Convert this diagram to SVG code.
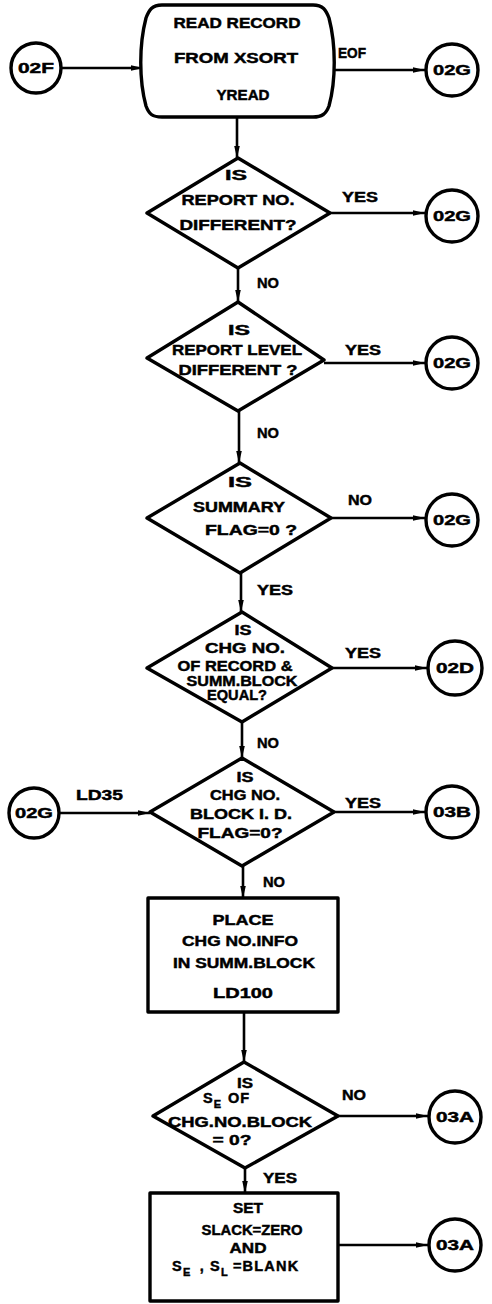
<svg xmlns="http://www.w3.org/2000/svg" width="492" height="1304" viewBox="0 0 492 1304">
  <style>
    .shape { fill: #fff; stroke: #000; stroke-width: 3.4; stroke-linejoin: round; }
    .conn { fill: none; stroke: #000; stroke-width: 2.6; }
    .t, .lbl { font-family: "Liberation Sans", Arial, sans-serif; font-weight: bold; font-size: 14.5px; fill: #000; stroke: #000; stroke-width: 0.45px; }
    .t { text-anchor: middle; }
    .sub { font-size: 11px; }
  </style>
  <defs>
    <marker id="arr" viewBox="0 0 12 8" refX="12" refY="4" markerWidth="12" markerHeight="8" markerUnits="userSpaceOnUse" orient="auto">
      <path d="M0,1.2 L12,4 L0,6.8 Z" fill="#000"/>
    </marker>
  </defs>
  <rect width="492" height="1304" fill="#fff"/>

  <!-- connectors -->
  <g id="connectors">
    <path class="conn" d="M62,68 H143" marker-end="url(#arr)"/>
    <path class="conn" d="M333,70 H425" marker-end="url(#arr)"/>
    <path class="conn" d="M237,117 V158" marker-end="url(#arr)"/>
    <path class="conn" d="M330,213 H425" marker-end="url(#arr)"/>
    <path class="conn" d="M238,268 V302" marker-end="url(#arr)"/>
    <path class="conn" d="M324,363 H425" marker-end="url(#arr)"/>
    <path class="conn" d="M239,411 V463" marker-end="url(#arr)"/>
    <path class="conn" d="M331,518 H425" marker-end="url(#arr)"/>
    <path class="conn" d="M241,573 V612" marker-end="url(#arr)"/>
    <path class="conn" d="M332,668 H427" marker-end="url(#arr)"/>
    <path class="conn" d="M242,722 V758" marker-end="url(#arr)"/>
    <path class="conn" d="M59,813 H150" marker-end="url(#arr)"/>
    <path class="conn" d="M334,812 H425" marker-end="url(#arr)"/>
    <path class="conn" d="M243,866 V898" marker-end="url(#arr)"/>
    <path class="conn" d="M244,1012 V1062" marker-end="url(#arr)"/>
    <path class="conn" d="M338,1116 H428" marker-end="url(#arr)"/>
    <path class="conn" d="M245,1168 V1193" marker-end="url(#arr)"/>
    <path class="conn" d="M338,1245 H428" marker-end="url(#arr)"/>
  </g>

  <!-- connector labels -->
  <g id="labels">
    <text class="lbl" x="338" y="58" textLength="28" lengthAdjust="spacingAndGlyphs">EOF</text>
    <text class="lbl" x="342" y="202" textLength="36" lengthAdjust="spacingAndGlyphs">YES</text>
    <text class="lbl" x="257" y="288" textLength="22" lengthAdjust="spacingAndGlyphs">NO</text>
    <text class="lbl" x="345" y="355" textLength="36" lengthAdjust="spacingAndGlyphs">YES</text>
    <text class="lbl" x="257" y="438" textLength="22" lengthAdjust="spacingAndGlyphs">NO</text>
    <text class="lbl" x="348" y="505" textLength="24" lengthAdjust="spacingAndGlyphs">NO</text>
    <text class="lbl" x="257" y="595" textLength="36" lengthAdjust="spacingAndGlyphs">YES</text>
    <text class="lbl" x="345" y="658" textLength="36" lengthAdjust="spacingAndGlyphs">YES</text>
    <text class="lbl" x="257" y="748" textLength="22" lengthAdjust="spacingAndGlyphs">NO</text>
    <text class="lbl" x="76" y="800" textLength="47" lengthAdjust="spacingAndGlyphs">LD35</text>
    <text class="lbl" x="345" y="808" textLength="36" lengthAdjust="spacingAndGlyphs">YES</text>
    <text class="lbl" x="263" y="887" textLength="22" lengthAdjust="spacingAndGlyphs">NO</text>
    <text class="lbl" x="342" y="1100" textLength="24" lengthAdjust="spacingAndGlyphs">NO</text>
    <text class="lbl" x="263" y="1183" textLength="34" lengthAdjust="spacingAndGlyphs">YES</text>
  </g>

  <!-- entry connector -->
  <g id="c02F">
    <circle class="shape" cx="36" cy="68" r="25"/>
    <text class="t" x="36" y="73" textLength="36" lengthAdjust="spacingAndGlyphs">02F</text>
  </g>

  <!-- read terminal -->
  <g id="yread">
    <path class="shape" d="M162,5 H313 C323,5 326,10 329,18 C336,45 336,80 329,106 C326,114 322,117 313,117 H162 C152,117 149,114 146,106 C139,80 139,45 146,18 C149,10 152,5 162,5 Z"/>
    <text class="t" x="237" y="28" textLength="127" lengthAdjust="spacingAndGlyphs">READ RECORD</text>
    <text class="t" x="236" y="63" textLength="124" lengthAdjust="spacingAndGlyphs">FROM  XSORT</text>
    <text class="t" x="243" y="100" textLength="53" lengthAdjust="spacingAndGlyphs">YREAD</text>
  </g>

  <g id="c02G_eof">
    <circle class="shape" cx="452" cy="70" r="26"/>
    <text class="t" x="452" y="75" textLength="38" lengthAdjust="spacingAndGlyphs">02G</text>
  </g>

  <!-- decision: report number -->
  <g id="d_report_no">
    <polygon class="shape" points="238,158 330,213 238,268 147,213"/>
    <text class="t" x="236" y="180" textLength="22" lengthAdjust="spacingAndGlyphs">IS</text>
    <text class="t" x="238" y="205" textLength="113" lengthAdjust="spacingAndGlyphs">REPORT NO.</text>
    <text class="t" x="238" y="230" textLength="117" lengthAdjust="spacingAndGlyphs">DIFFERENT?</text>
  </g>
  <g id="c02G_1">
    <circle class="shape" cx="452" cy="216" r="26"/>
    <text class="t" x="452" y="221" textLength="38" lengthAdjust="spacingAndGlyphs">02G</text>
  </g>

  <!-- decision: report level -->
  <g id="d_report_level">
    <polygon class="shape" points="238,302 324,360 238,411 147,358"/>
    <text class="t" x="239" y="335" textLength="22" lengthAdjust="spacingAndGlyphs">IS</text>
    <text class="t" x="237" y="355" textLength="130" lengthAdjust="spacingAndGlyphs">REPORT LEVEL</text>
    <text class="t" x="238" y="375" textLength="119" lengthAdjust="spacingAndGlyphs">DIFFERENT ?</text>
  </g>
  <g id="c02G_2">
    <circle class="shape" cx="452" cy="363" r="26"/>
    <text class="t" x="452" y="368" textLength="38" lengthAdjust="spacingAndGlyphs">02G</text>
  </g>

  <!-- decision: summary flag -->
  <g id="d_summary">
    <polygon class="shape" points="240,463 331,518 240,573 147,518"/>
    <text class="t" x="240" y="487" textLength="24" lengthAdjust="spacingAndGlyphs">IS</text>
    <text class="t" x="239" y="512" textLength="92" lengthAdjust="spacingAndGlyphs">SUMMARY</text>
    <text class="t" x="251" y="535" textLength="92" lengthAdjust="spacingAndGlyphs">FLAG=0 ?</text>
  </g>
  <g id="c02G_3">
    <circle class="shape" cx="452" cy="520" r="26"/>
    <text class="t" x="452" y="525" textLength="38" lengthAdjust="spacingAndGlyphs">02G</text>
  </g>

  <!-- decision: change number equal -->
  <g id="d_chg_equal">
    <polygon class="shape" points="242,612 332,668 242,722 147,668"/>
    <text class="t" x="243" y="635" textLength="17" lengthAdjust="spacingAndGlyphs">IS</text>
    <text class="t" x="245" y="653" textLength="80" lengthAdjust="spacingAndGlyphs">CHG NO.</text>
    <text class="t" x="235" y="671" textLength="115" lengthAdjust="spacingAndGlyphs">OF RECORD &amp;</text>
    <text class="t" x="242" y="686" textLength="111" lengthAdjust="spacingAndGlyphs">SUMM.BLOCK</text>
    <text class="t" x="237" y="700" textLength="60" lengthAdjust="spacingAndGlyphs">EQUAL?</text>
  </g>
  <g id="c02D">
    <circle class="shape" cx="455" cy="668" r="27"/>
    <text class="t" x="455" y="673" textLength="38" lengthAdjust="spacingAndGlyphs">02D</text>
  </g>

  <!-- decision: block id flag -->
  <g id="c02G_in">
    <circle class="shape" cx="34" cy="813" r="25"/>
    <text class="t" x="34" y="818" textLength="38" lengthAdjust="spacingAndGlyphs">02G</text>
  </g>
  <g id="d_block_id">
    <polygon class="shape" points="242,758 334,812 242,866 150,812"/>
    <text class="t" x="245" y="782" textLength="17" lengthAdjust="spacingAndGlyphs">IS</text>
    <text class="t" x="245" y="800" textLength="70" lengthAdjust="spacingAndGlyphs">CHG NO.</text>
    <text class="t" x="241" y="819" textLength="102" lengthAdjust="spacingAndGlyphs">BLOCK I. D.</text>
    <text class="t" x="240" y="838" textLength="85" lengthAdjust="spacingAndGlyphs">FLAG=0?</text>
  </g>
  <g id="c03B">
    <circle class="shape" cx="452" cy="812" r="26"/>
    <text class="t" x="452" y="817" textLength="38" lengthAdjust="spacingAndGlyphs">03B</text>
  </g>

  <!-- process: place change number info -->
  <g id="ld100">
    <rect class="shape" x="148" y="898" width="190" height="114"/>
    <text class="t" x="243" y="925" textLength="61" lengthAdjust="spacingAndGlyphs">PLACE</text>
    <text class="t" x="240" y="946" textLength="116" lengthAdjust="spacingAndGlyphs">CHG NO.INFO</text>
    <text class="t" x="244" y="968" textLength="142" lengthAdjust="spacingAndGlyphs">IN SUMM.BLOCK</text>
    <text class="t" x="243" y="998" textLength="60" lengthAdjust="spacingAndGlyphs">LD100</text>
  </g>

  <!-- decision: early start -->
  <g id="d_se_zero">
    <polygon class="shape" points="244,1062 338,1116 245,1168 153,1116"/>
    <text class="t" x="245" y="1088" textLength="16" lengthAdjust="spacingAndGlyphs">IS</text>
    <text class="lbl" x="203" y="1103" letter-spacing="1">S<tspan class="sub" dy="5">E</tspan><tspan dx="6" dy="-5">OF</tspan></text>
    <text class="t" x="240" y="1127" textLength="144" lengthAdjust="spacingAndGlyphs">CHG.NO.BLOCK</text>
    <text class="t" x="232" y="1145" textLength="39" lengthAdjust="spacingAndGlyphs">= 0?</text>
  </g>
  <g id="c03A_1">
    <circle class="shape" cx="455" cy="1117" r="26"/>
    <text class="t" x="455" y="1122" textLength="38" lengthAdjust="spacingAndGlyphs">03A</text>
  </g>

  <!-- process: set slack -->
  <g id="set_slack">
    <rect class="shape" x="150" y="1193" width="188" height="108"/>
    <text class="t" x="248" y="1213" textLength="30" lengthAdjust="spacingAndGlyphs">SET</text>
    <text class="t" x="252" y="1235" textLength="101" lengthAdjust="spacingAndGlyphs">SLACK=ZERO</text>
    <text class="t" x="248" y="1253" textLength="37" lengthAdjust="spacingAndGlyphs">AND</text>
    <text class="lbl" x="172" y="1271" letter-spacing="1.2">S<tspan class="sub" dy="5">E</tspan><tspan dx="3" dy="-5"> , S</tspan><tspan class="sub" dy="5">L</tspan><tspan dx="4" dy="-5">=BLANK</tspan></text>
  </g>
  <g id="c03A_2">
    <circle class="shape" cx="455" cy="1245" r="26"/>
    <text class="t" x="455" y="1250" textLength="38" lengthAdjust="spacingAndGlyphs">03A</text>
  </g>
</svg>
